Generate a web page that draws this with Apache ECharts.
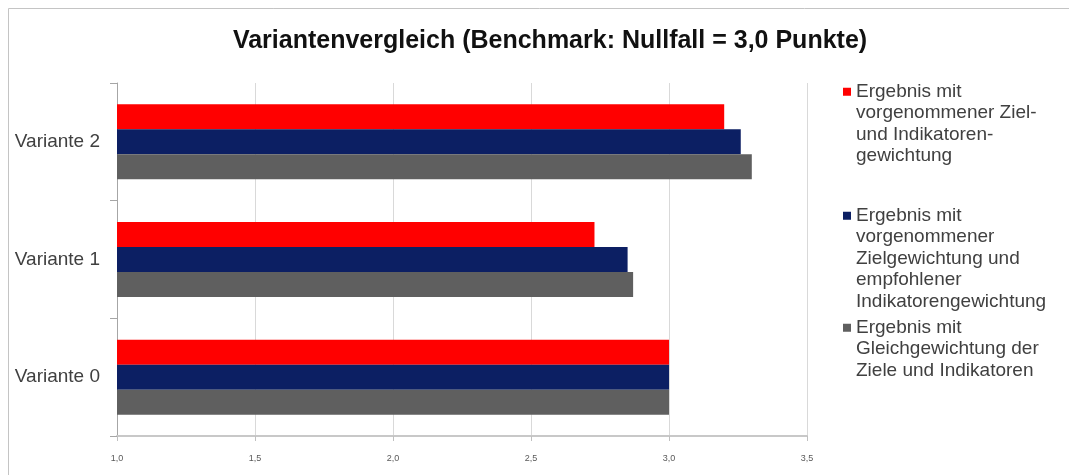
<!DOCTYPE html>
<html>
<head>
<meta charset="utf-8">
<script src="https://cdn.jsdelivr.net/npm/echarts@6/dist/echarts.min.js"></script>
<style>
  html, body { margin: 0; padding: 0; background: #fff; }
  #chart { width: 1069px; height: 475px; }
</style>
</head>
<body>
<div id="chart"></div>
<script>
// Kategorien (von unten nach oben)
const categories = ["Variante 0", "Variante 1", "Variante 2"];

// Werte je Reihe, in Reihenfolge der Kategorien
const zielUndIndikatoren = [3.0, 2.73, 3.2];
const zielEmpfohlen = [3.0, 2.85, 3.26];
const gleichgewichtung = [3.0, 2.87, 3.3];

const seriesNames = [
  "Ergebnis mit vorgenommener Ziel- und Indikatorengewichtung",
  "Ergebnis mit vorgenommener Zielgewichtung und empfohlener Indikatorengewichtung",
  "Ergebnis mit Gleichgewichtung der Ziele und Indikatoren",
];

// Zeilenumbrüche wie in der Legende der Vorlage
const legendLines = [
  ["Ergebnis mit", "vorgenommener Ziel-", "und Indikatoren-", "gewichtung"],
  ["Ergebnis mit", "vorgenommener", "Zielgewichtung und", "empfohlener", "Indikatorengewichtung"],
  ["Ergebnis mit", "Gleichgewichtung der", "Ziele und Indikatoren"],
];

const colors = ["#ff0000", "#0c1f63", "#5f5f5f"];
const font = "'Liberation Sans', Arial, sans-serif";
const LINE_H = 21.5;

/**
 * Legendensymbol: kleines Quadrat auf Höhe der ersten Zeile eines mehrzeiligen Eintrags.
 */
function legendIcon(lineCount) {
  const h = lineCount * LINE_H;
  const top = LINE_H / 2 - 4;
  return "path://M0," + top + "h8v8h-8z M0,0h0.01v0.01h-0.01z M0," + h + "h0.01v-0.01h-0.01z";
}

function createLegend(index, top) {
  const lines = legendLines[index];
  return {
    left: 838,
    top: top,
    orient: "vertical",
    selectedMode: false,
    data: [seriesNames[index]],
    icon: legendIcon(lines.length),
    itemWidth: 8,
    itemHeight: lines.length * LINE_H,
    formatter: function () {
      return lines.join("\n");
    },
    textStyle: {
      fontFamily: font,
      fontSize: 19,
      lineHeight: LINE_H,
      color: "#404040",
    },
  };
}

const chart = echarts.init(document.getElementById("chart"));

chart.setOption({
  animation: false,
  backgroundColor: "#ffffff",
  title: {
    text: "Variantenvergleich (Benchmark: Nullfall = 3,0 Punkte)",
    left: 545,
    textAlign: "center",
    top: 24,
    textStyle: {
      fontFamily: font,
      fontSize: 25,
      fontWeight: "bold",
      color: "#111111",
    },
  },
  graphic: [
    {
      type: "rect",
      shape: { x: 8.5, y: 8.5, width: 1100, height: 500 },
      style: { fill: null, stroke: "#c4c4c4", lineWidth: 1 },
      silent: true,
    },
  ],
  legend: [
    createLegend(0, 76),
    createLegend(1, 200),
    createLegend(2, 312),
  ],
  grid: {
    left: 117,
    right: 262,
    top: 83,
    bottom: 39,
  },
  xAxis: {
    type: "value",
    min: 1,
    max: 3.5,
    interval: 0.5,
    axisLine: {
      show: true,
      lineStyle: { color: "#c8c8c8", width: 2 },
    },
    axisTick: {
      show: true,
      length: 5,
      lineStyle: { color: "#c0c0c0" },
    },
    axisLabel: {
      fontFamily: font,
      fontSize: 9,
      color: "#595959",
      margin: 18,
      formatter: function (v) {
        return v.toFixed(1).replace(".", ",");
      },
    },
    splitLine: {
      show: true,
      lineStyle: { color: "#d9d9d9", width: 1 },
    },
  },
  yAxis: {
    type: "category",
    data: categories,
    axisLine: {
      show: true,
      lineStyle: { color: "#a6a6a6", width: 1 },
    },
    axisTick: {
      show: true,
      length: 7,
      lineStyle: { color: "#a6a6a6" },
    },
    axisLabel: {
      fontFamily: font,
      fontSize: 19,
      color: "#404040",
      margin: 17,
    },
  },
  series: [
    {
      name: seriesNames[0],
      type: "bar",
      data: zielUndIndikatoren,
      barWidth: 25,
      barGap: "0%",
      itemStyle: { color: colors[0] },
    },
    {
      name: seriesNames[1],
      type: "bar",
      data: zielEmpfohlen,
      barWidth: 25,
      barGap: "0%",
      itemStyle: { color: colors[1] },
    },
    {
      name: seriesNames[2],
      type: "bar",
      data: gleichgewichtung,
      barWidth: 25,
      barGap: "0%",
      itemStyle: { color: colors[2] },
    },
  ],
});
</script>
</body>
</html>
